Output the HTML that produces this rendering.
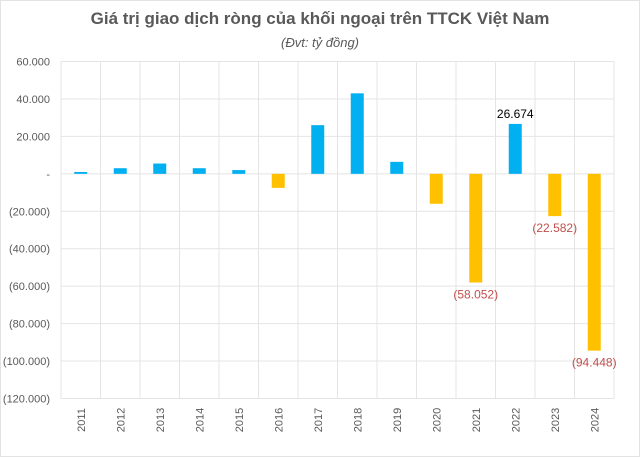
<!DOCTYPE html>
<html><head><meta charset="utf-8">
<style>
html,body{margin:0;padding:0;background:#fff;}
body{width:640px;height:457px;overflow:hidden;font-family:"Liberation Sans",sans-serif;}
#frame{position:absolute;left:0;top:0;width:638px;height:455px;border:1px solid #e3e3e3;}
</style></head>
<body>
<div id="frame"></div>
<svg id="chart" width="640" height="457" style="position:absolute;left:0;top:0">
<text x="320" y="24" text-anchor="middle" font-size="17" font-weight="bold" fill="#595959">Giá trị giao dịch ròng của khối ngoại trên TTCK Việt Nam</text>
<text x="320" y="47" text-anchor="middle" font-size="13" font-style="italic" fill="#595959">(Đvt: tỷ đồng)</text>
<g id="grid"></g><g id="bars"></g><g id="labels"></g>
</svg>
<script>
const categories=["2011","2012","2013","2014","2015","2016","2017","2018","2019","2020","2021","2022","2023","2024"];
const values=[1000,3000,5500,3000,2000,-7500,26000,43000,6400,-16000,-58052,26674,-22582,-94448];
const labelFlags=[0,0,0,0,0,0,0,0,0,0,1,1,1,1];
const yTicks=[60000,40000,20000,0,-20000,-40000,-60000,-80000,-100000,-120000];
const yTickLabels=["60.000","40.000","20.000","-","(20.000)","(40.000)","(60.000)","(80.000)","(100.000)","(120.000)"];
const valueLabels=["","","","","","","","","","","(58.052)","26.674","(22.582)","(94.448)"];

const NS="http://www.w3.org/2000/svg";
const L=61,R=614,T=61.5,B=398.5,yMax=60000,yMin=-120000;
const y=v=>T+(yMax-v)/(yMax-yMin)*(B-T);
const cw=(R-L)/categories.length;
const x=i=>L+i*cw;
function mk(tag,attrs,parent){const e=document.createElementNS(NS,tag);for(const k in attrs)e.setAttribute(k,attrs[k]);parent.appendChild(e);return e;}
const grid=document.getElementById('grid'),bars=document.getElementById('bars'),labels=document.getElementById('labels');
yTicks.forEach((t,i)=>{
  const ln=mk('line',{x1:L,x2:R,y1:y(t),y2:y(t),stroke:'#e4e4e4','stroke-width':1},grid);
  
  
  const tx=mk('text',{x:50,y:y(t)+4,'text-anchor':'end','font-size':11,fill:'#595959'},grid);
  tx.textContent=yTickLabels[i];
  
  
});
for(let i=0;i<=categories.length;i++){
  const ln=mk('line',{x1:x(i),x2:x(i),y1:T,y2:B,stroke:'#e4e4e4','stroke-width':1},grid);
  
  
}
categories.forEach((c,i)=>{
  const v=values[i],bw=13,cx=x(i)+cw/2;
  const top=Math.min(y(v),y(0)),h=Math.abs(y(v)-y(0));
  const r=mk('rect',{x:cx-bw/2,y:top,width:bw,height:Math.max(h,1),fill:v>=0?'#00B0F0':'#FFC000'},bars);
  
  
  const t=mk('text',{'font-size':11,fill:'#595959','text-anchor':'middle',transform:`translate(${cx+4},420) rotate(-90)`},labels);
  t.textContent=c;
  
  
  if(labelFlags[i]){
    const ly=v>=0?y(v)-6:y(v)+16;
    const vt=mk('text',{x:cx,y:ly,'text-anchor':'middle','font-size':12,fill:v>=0?'#000':'#C0504D'},labels);
    vt.textContent=valueLabels[i];
    
    
  }
});
</script>
</body></html>
